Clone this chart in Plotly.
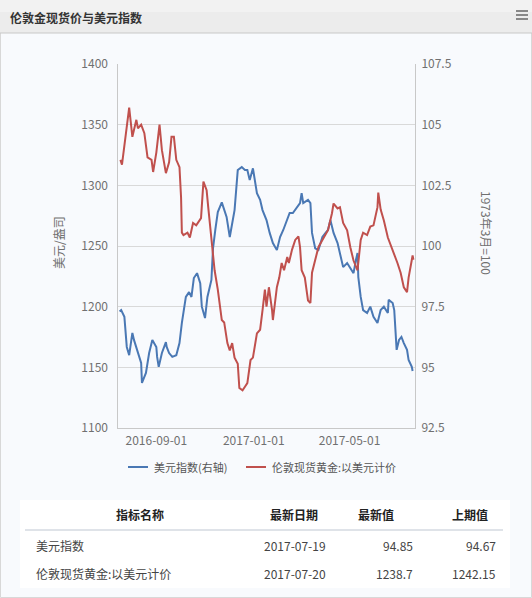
import plotly.graph_objects as go

# ---------------- data ----------------
gold_dates = [
    "2016-07-18", "2016-07-20", "2016-07-29", "2016-08-02", "2016-08-07", "2016-08-09",
    "2016-08-13", "2016-08-17", "2016-08-21", "2016-08-26", "2016-08-28", "2016-09-01",
    "2016-09-05", "2016-09-08", "2016-09-13", "2016-09-17", "2016-09-20", "2016-09-23",
    "2016-09-26", "2016-09-30", "2016-10-02", "2016-10-03", "2016-10-05", "2016-10-10",
    "2016-10-13", "2016-10-17", "2016-10-21", "2016-10-25", "2016-10-27", "2016-10-30",
    "2016-11-03", "2016-11-05", "2016-11-09", "2016-11-13", "2016-11-17", "2016-11-22",
    "2016-11-25", "2016-11-29", "2016-12-02", "2016-12-05", "2016-12-08", "2016-12-12",
    "2016-12-14", "2016-12-18", "2016-12-21", "2016-12-24", "2016-12-28", "2016-12-31",
    "2017-01-05", "2017-01-09", "2017-01-12", "2017-01-15", "2017-01-17", "2017-01-20",
    "2017-01-24", "2017-01-25", "2017-01-30", "2017-02-02", "2017-02-05", "2017-02-08",
    "2017-02-12", "2017-02-14", "2017-02-18", "2017-02-22", "2017-02-26", "2017-02-28",
    "2017-03-02", "2017-03-06", "2017-03-10", "2017-03-13", "2017-03-15", "2017-03-19",
    "2017-03-23", "2017-03-28", "2017-04-04", "2017-04-09", "2017-04-11", "2017-04-16",
    "2017-04-19", "2017-04-23", "2017-04-28", "2017-05-02", "2017-05-06", "2017-05-11",
    "2017-05-15", "2017-05-18", "2017-05-23", "2017-05-27", "2017-05-31", "2017-06-05",
    "2017-06-06", "2017-06-09", "2017-06-13", "2017-06-18", "2017-06-21", "2017-06-25",
    "2017-06-30", "2017-07-04", "2017-07-08", "2017-07-12", "2017-07-14", "2017-07-19",
    "2017-07-20",
]
gold_values = [
    1321, 1317, 1364, 1340, 1354, 1347,
    1350, 1343, 1323, 1321, 1311, 1327,
    1350, 1329, 1310, 1319, 1340, 1340,
    1321, 1315, 1290, 1261, 1259, 1261,
    1257, 1269, 1267, 1271, 1273, 1303,
    1296, 1282, 1255, 1230, 1214, 1189,
    1187, 1170, 1164, 1170, 1158, 1153,
    1133, 1131, 1134, 1137, 1156, 1158,
    1178, 1181, 1197, 1214, 1200, 1216,
    1197, 1189, 1216, 1224, 1236, 1230,
    1241, 1236, 1247, 1255, 1258, 1249,
    1230, 1224, 1205, 1203, 1228, 1238,
    1249, 1255, 1263, 1277, 1285, 1281,
    1282, 1269, 1263, 1249, 1238, 1230,
    1255, 1261, 1259, 1266, 1267, 1282,
    1294, 1280, 1271, 1257, 1252, 1244,
    1236, 1228, 1216, 1212, 1224, 1242.15,
    1238.7,
]

usd_dates = [
    "2016-07-17", "2016-07-19", "2016-07-23", "2016-07-26", "2016-07-29", "2016-08-02",
    "2016-08-04", "2016-08-08", "2016-08-13", "2016-08-14", "2016-08-19", "2016-08-23",
    "2016-08-27", "2016-09-01", "2016-09-02", "2016-09-04", "2016-09-08", "2016-09-13",
    "2016-09-14", "2016-09-17", "2016-09-21", "2016-09-26", "2016-09-30", "2016-10-03",
    "2016-10-08", "2016-10-12", "2016-10-15", "2016-10-18", "2016-10-22", "2016-10-26",
    "2016-10-28", "2016-11-01", "2016-11-04", "2016-11-09", "2016-11-11", "2016-11-14",
    "2016-11-17", "2016-11-22", "2016-11-28", "2016-12-02", "2016-12-08", "2016-12-12",
    "2016-12-17", "2016-12-21", "2016-12-24", "2016-12-27", "2016-12-31", "2017-01-05",
    "2017-01-09", "2017-01-12", "2017-01-17", "2017-01-21", "2017-01-25", "2017-01-30",
    "2017-02-03", "2017-02-07", "2017-02-12", "2017-02-15", "2017-02-19", "2017-02-24",
    "2017-02-28", "2017-03-02", "2017-03-04", "2017-03-10", "2017-03-13", "2017-03-15",
    "2017-03-19", "2017-03-23", "2017-03-28", "2017-04-01", "2017-04-04", "2017-04-07",
    "2017-04-11", "2017-04-16", "2017-04-19", "2017-04-23", "2017-04-28", "2017-05-02",
    "2017-05-06", "2017-05-09", "2017-05-11", "2017-05-12", "2017-05-15", "2017-05-18",
    "2017-05-23", "2017-05-27", "2017-05-31", "2017-06-05", "2017-06-09", "2017-06-13",
    "2017-06-18", "2017-06-19", "2017-06-24", "2017-06-26", "2017-06-29", "2017-07-02",
    "2017-07-05", "2017-07-08", "2017-07-12", "2017-07-14", "2017-07-18", "2017-07-19",
]
usd_values = [
    97.30, 97.36, 97.08, 95.84, 95.50, 96.42,
    96.13, 95.70, 95.18, 94.36, 94.77, 95.59,
    96.13, 95.84, 95.43, 95.02, 95.59, 96.04,
    95.84, 95.59, 95.43, 95.50, 96.00, 96.83,
    97.90, 98.10, 97.90, 98.68, 98.88, 98.47,
    97.50, 97.03, 97.90, 98.60, 99.90, 100.70,
    101.40, 101.80, 101.20, 100.37, 101.48, 103.13,
    103.25, 103.13, 103.13, 102.72, 103.20, 102.18,
    101.90, 101.48, 101.07, 100.54, 100.12, 99.83,
    100.37, 100.66, 101.07, 101.36, 101.36, 101.60,
    101.77, 102.18, 101.77, 101.90, 101.77, 100.54,
    99.90, 99.83, 100.37, 100.54, 100.66, 101.07,
    100.54, 100.12, 99.71, 99.13, 99.30, 99.09,
    98.88, 99.42, 99.71, 98.72, 97.90, 97.36,
    97.24, 97.50, 97.08, 96.83, 97.36, 97.50,
    97.24, 97.78, 97.65, 97.36, 95.72, 96.13,
    96.25, 96.00, 95.72, 95.30, 95.02, 94.85,
]

x_tick_vals = ["2016-09-01", "2017-01-01", "2017-05-01"]
x_tick_text = ["2016-09-01", "2017-01-01", "2017-05-01"]
left_tick_vals = [1100, 1150, 1200, 1250, 1300, 1350, 1400]
left_tick_text = ["1100", "1150", "1200", "1250", "1300", "1350", "1400"]
right_tick_vals = [92.5, 95, 97.5, 100, 102.5, 105, 107.5]
right_tick_text = ["92.5", "95", "97.5", "100", "102.5", "105", "107.5"]

chart_title = "伦敦金现货价与美元指数"
usd_name = "美元指数(右轴)"
gold_name = "伦敦现货黄金:以美元计价"
left_axis_title = "美元/盎司"
right_axis_title = "1973年3月=100"

table_header = ["指标名称", "最新日期", "最新值", "上期值"]
table_names = ["美元指数", "伦敦现货黄金:以美元计价"]
table_dates = ["2017-07-19", "2017-07-20"]
table_latest = ["94.85", "1238.7"]
table_previous = ["94.67", "1242.15"]

# ---------------- layout helpers ----------------
W, H = 532, 598
L, R, T, B = 118, 415, 64, 428  # plot area in pixels


def px(x):
    return (x - L) / (R - L)


def py(y):
    return (B - y) / (B - T)


FONT = "Noto Sans CJK SC, Noto Sans, sans-serif"
BLUE = "#4a78b4"
RED = "#c0504d"
BG = "#f8fafd"

fig = go.Figure()
fig.add_trace(go.Scatter(
    x=usd_dates, y=usd_values, name=usd_name, mode="lines",
    line=dict(color=BLUE, width=2), yaxis="y", showlegend=False,
))
fig.add_trace(go.Scatter(
    x=gold_dates, y=gold_values, name=gold_name, mode="lines",
    line=dict(color=RED, width=2), yaxis="y2", showlegend=False,
))

tickfont = dict(family=FONT, size=12, color="#707070")

fig.update_layout(
    width=W, height=H,
    margin=dict(l=L, r=W - R, t=T, b=H - B),
    paper_bgcolor=BG, plot_bgcolor=BG,
    font=dict(family=FONT, size=12, color="#333"),
    showlegend=False,
    xaxis=dict(
        type="date", range=["2016-07-15", "2017-07-22"],
        tickvals=x_tick_vals, ticktext=x_tick_text, tickfont=tickfont,
        showgrid=False, showline=True, linecolor="#c8c8c8", linewidth=1,
        ticks="", ticklabelstandoff=2, zeroline=False,
    ),
    yaxis=dict(
        side="right", range=[92.5, 107.5], tickvals=right_tick_vals, ticktext=right_tick_text,
        tickfont=tickfont, showgrid=True, gridcolor="#d9d9d9", gridwidth=1,
        showline=True, mirror=True, linecolor="#c8c8c8", zeroline=False,
        ticks="", ticklabelstandoff=3,
    ),
    yaxis2=dict(
        side="left", overlaying="y", range=[1100, 1400], tickvals=left_tick_vals,
        ticktext=left_tick_text, tickfont=tickfont, showgrid=False, zeroline=False,
        showline=False, ticks="", ticklabelstandoff=9,
    ),
)

shapes = []
annotations = []
# outer border
shapes.append(dict(type="rect", xref="paper", yref="paper", x0=px(0.5), x1=px(531.5),
                   y0=py(597.5), y1=py(0.5), line=dict(color="#d8d8d8", width=1), layer="below"))
# title bar
shapes.append(dict(type="rect", xref="paper", yref="paper", x0=px(0), x1=px(532),
                   y0=py(33), y1=py(0), fillcolor="#ececec", line=dict(width=0), layer="below"))
shapes.append(dict(type="rect", xref="paper", yref="paper", x0=px(0), x1=px(532),
                   y0=py(12), y1=py(0), fillcolor="#f2f2f2", line=dict(width=0), layer="below"))
shapes.append(dict(type="line", xref="paper", yref="paper", x0=px(0), x1=px(532),
                   y0=py(33), y1=py(33), line=dict(color="#c8c8c8", width=1)))
# menu icon
for yy in (11, 15, 19):
    shapes.append(dict(type="line", xref="paper", yref="paper", x0=px(516), x1=px(528),
                       y0=py(yy), y1=py(yy), line=dict(color="#888", width=2)))
annotations.append(dict(text=f"<b>{chart_title}</b>", xref="paper", yref="paper",
                        x=px(8), y=py(17), xanchor="left", yanchor="middle", showarrow=False,
                        font=dict(family=FONT, size=12, color="#333")))
# axis titles
annotations.append(dict(text=left_axis_title, xref="paper", yref="paper", x=px(58), y=py(243),
                        textangle=-90, showarrow=False, xanchor="center", yanchor="middle",
                        font=dict(family=FONT, size=12, color="#707070")))
annotations.append(dict(text=right_axis_title, xref="paper", yref="paper", x=px(487), y=py(233),
                        textangle=90, showarrow=False, xanchor="center", yanchor="middle",
                        font=dict(family=FONT, size=12, color="#707070")))

# legend (drawn manually so it stays on one row)
leg_font = dict(family=FONT, size=11, color="#555")
leg_y = 467
shapes.append(dict(type="line", xref="paper", yref="paper", x0=px(128), x1=px(148),
                   y0=py(leg_y), y1=py(leg_y), line=dict(color=BLUE, width=2)))
annotations.append(dict(text=usd_name, xref="paper", yref="paper", x=px(152), y=py(leg_y),
                        xanchor="left", yanchor="middle", showarrow=False, font=leg_font))
shapes.append(dict(type="line", xref="paper", yref="paper", x0=px(246), x1=px(266),
                   y0=py(leg_y), y1=py(leg_y), line=dict(color=RED, width=2)))
annotations.append(dict(text=gold_name, xref="paper", yref="paper", x=px(270), y=py(leg_y),
                        xanchor="left", yanchor="middle", showarrow=False, font=leg_font))

# table
hdr_font = dict(family=FONT, size=12, color="#222")
cell_font = dict(family=FONT, size=12, color="#444")
shapes.append(dict(type="rect", xref="paper", yref="paper", x0=px(20), x1=px(510),
                   y0=py(588), y1=py(500), fillcolor="#ffffff", line=dict(width=0), layer="below"))
shapes.append(dict(type="line", xref="paper", yref="paper", x0=px(25), x1=px(503),
                   y0=py(530), y1=py(530), line=dict(color="#bfc7d2", width=1)))
hdr_x = [140, 294, 376, 470]
for txt, xx in zip(table_header, hdr_x):
    annotations.append(dict(text=f"<b>{txt}</b>", xref="paper", yref="paper", x=px(xx), y=py(514),
                            xanchor="center", yanchor="middle", showarrow=False, font=hdr_font))
row_y = [545, 573]
for i, yy in enumerate(row_y):
    annotations.append(dict(text=table_names[i], xref="paper", yref="paper", x=px(34), y=py(yy),
                            xanchor="left", yanchor="middle", showarrow=False, font=cell_font))
    annotations.append(dict(text=table_dates[i], xref="paper", yref="paper", x=px(295), y=py(yy),
                            xanchor="center", yanchor="middle", showarrow=False, font=cell_font))
    annotations.append(dict(text=table_latest[i], xref="paper", yref="paper", x=px(415), y=py(yy),
                            xanchor="right", yanchor="middle", showarrow=False, font=cell_font))
    annotations.append(dict(text=table_previous[i], xref="paper", yref="paper", x=px(498), y=py(yy),
                            xanchor="right", yanchor="middle", showarrow=False, font=cell_font))

fig.update_layout(shapes=shapes, annotations=annotations)
# remove the browser's default 8px page margin so the figure sits at the window's corner
fig.write_html("out.html", config={"displayModeBar": False},
               post_script="document.body.style.margin='0';")
